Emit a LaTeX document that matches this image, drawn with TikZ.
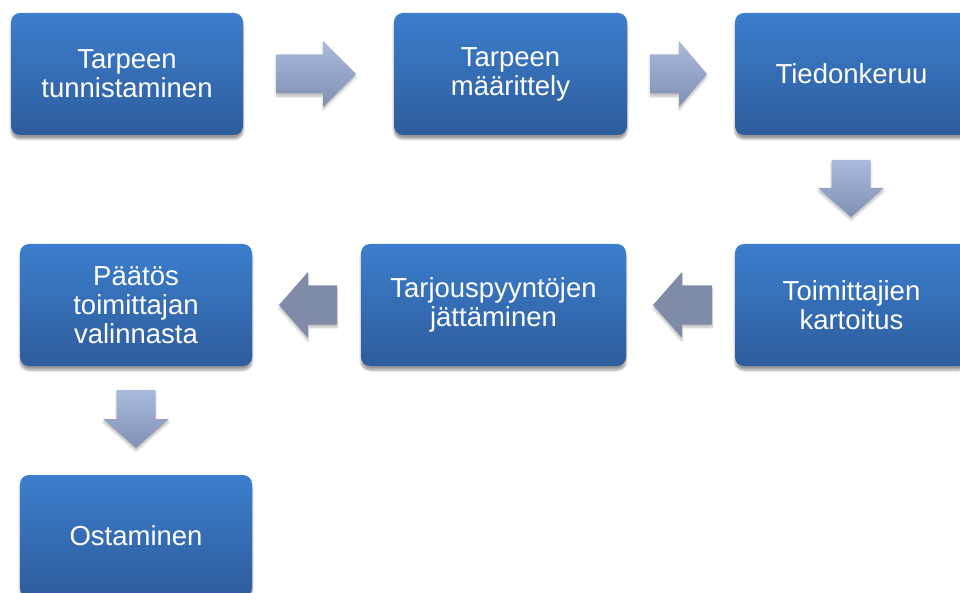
\documentclass[tikz,border=0pt]{standalone}
\usepackage{fontspec}
\setmainfont{Liberation Sans}
\usetikzlibrary{calc,shadows.blur}

\definecolor{boxtop}{RGB}{60,126,205}
\definecolor{boxbot}{RGB}{46,92,156}
\definecolor{arrtop}{RGB}{169,186,221}
\definecolor{arrbot}{RGB}{128,144,178}
\definecolor{arrflat}{RGB}{127,139,167}

\tikzset{
  stepbox/.style={rounded corners=9pt, top color=boxtop, bottom color=boxbot,
    draw=none, text=white, align=center, inner sep=0pt,
    minimum height=122pt, minimum width=232pt,
    font=\fontsize{27.5}{29}\selectfont,
    blur shadow={shadow xshift=0pt, shadow yshift=-4pt, shadow blur steps=8, shadow opacity=40}},
  gradarrow/.style={top color=arrtop, bottom color=arrbot, draw=none,
    blur shadow={shadow xshift=0pt, shadow yshift=-3pt, shadow blur steps=6, shadow opacity=25}},
  flatarrow/.style={fill=arrflat, draw=none,
    blur shadow={shadow xshift=0pt, shadow yshift=-3pt, shadow blur steps=6, shadow opacity=25}}
}

% horizontal block arrow centred at the origin: style, signed length, signed head length
\newcommand\harrow[3]{%
  \path[#1] ({-(#2)/2},-19.5) -- ({(#2)/2-(#3)},-19.5) -- ({(#2)/2-(#3)},-33)
    -- ({(#2)/2},0) -- ({(#2)/2-(#3)},33) -- ({(#2)/2-(#3)},19.5)
    -- ({-(#2)/2},19.5) -- cycle;}
% vertical block arrow pointing down
\newcommand\varrow[3]{%
  \path[#1] (-19.5,{-(#2)/2}) -- (-19.5,{(#2)/2-(#3)}) -- (-33,{(#2)/2-(#3)})
    -- (0,{(#2)/2}) -- (33,{(#2)/2-(#3)}) -- (19.5,{(#2)/2-(#3)})
    -- (19.5,{-(#2)/2}) -- cycle;}

\begin{document}
\begin{tikzpicture}[x=1pt,y=-1pt]
\useasboundingbox (0,0) rectangle (960,593);
\clip (0,0) rectangle (960,593);

% process steps
\node[stepbox] (b1) at (127,74) {Tarpeen\\tunnistaminen};
\node[stepbox, minimum width=233pt] (b2) at (510.5,74) {Tarpeen\\määrittely};
\node[stepbox, minimum width=233pt] (b3) at (851.5,74) {Tiedonkeruu};
\node[stepbox, minimum width=233pt] (b4) at (851.5,305) {Toimittajien\\kartoitus};
\node[stepbox, minimum width=265pt] (b5) at (493.5,305) {Tarjouspyyntöjen\\jättäminen};
\node[stepbox] (b6) at (136,305) {Päätös\\toimittajan\\valinnasta};
\node[stepbox] (b7) at (136,536) {Ostaminen};

% block arrows between the steps
\coordinate (m12) at ($(b1.east)!0.5!(b2.west)$);
\coordinate (m23) at ($(b2.east)!0.5!(b3.west)$);
\coordinate (m34) at ($(b3.south)!0.5!(b4.north)$);
\coordinate (m45) at ($(b4.west)!0.5!(b5.east)$);
\coordinate (m56) at ($(b5.west)!0.5!(b6.east)$);
\coordinate (m67) at ($(b6.south)!0.5!(b7.north)$);

\begin{scope}[shift={(m12)}, xshift=-2.5pt] \harrow{gradarrow}{80}{33} \end{scope}
\begin{scope}[shift={(m23)}, xshift=-2.5pt] \harrow{gradarrow}{57}{28} \end{scope}
\begin{scope}[shift={(m34)}, xshift=-0.5pt, yshift=1pt] \varrow{gradarrow}{57}{29} \end{scope}
\begin{scope}[shift={(m45)}, xshift=2pt] \harrow{flatarrow}{-59}{-29} \end{scope}
\begin{scope}[shift={(m56)}, xshift=1.5pt] \harrow{flatarrow}{-58}{-29} \end{scope}
\begin{scope}[shift={(m67)}, yshift=1.5pt] \varrow{gradarrow}{58}{29} \end{scope}
\end{tikzpicture}
\end{document}
